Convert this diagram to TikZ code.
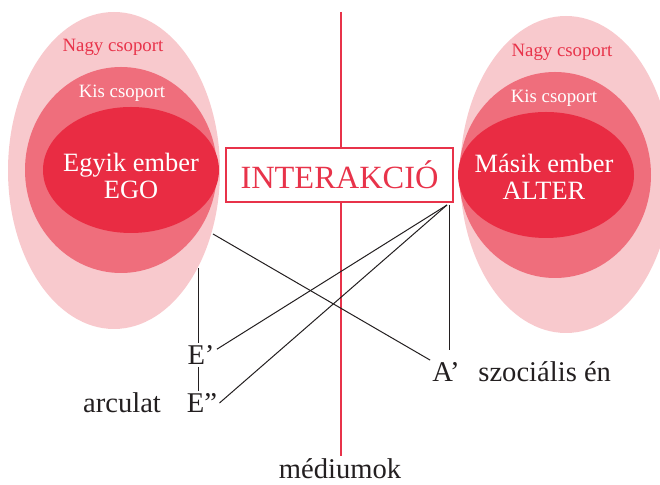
\documentclass[tikz,border=0pt]{standalone}
\usepackage{fontspec}
\setmainfont{Liberation Serif}
\definecolor{nagypink}{HTML}{F8C9CD}
\definecolor{kispink}{HTML}{EF6E7C}
\definecolor{emberred}{HTML}{E92C43}
\definecolor{linered}{HTML}{E8334A}
\definecolor{textgray}{HTML}{231F20}
\begin{document}
\begin{tikzpicture}[x=0.5pt,y=-0.5pt,
  lbl/.style={text=textgray, font=\fontsize{14.3}{16}\selectfont, inner sep=1pt},
  grp/.style={font=\fontsize{9.4}{11}\selectfont, inner sep=1pt},
  person/.style={text=white, align=center, font=\fontsize{13.2}{13.5}\selectfont},
  conn/.style={draw=textgray, line width=0.5pt}]
\clip (0,0) rectangle (660,485);
\fill[nagypink] (114,170.5) ellipse [x radius=106, y radius=158.5];
\fill[kispink] (121,170) ellipse [x radius=96, y radius=103];
\fill[emberred] (131,170) ellipse [x radius=88, y radius=63];
\fill[nagypink] (566,174.5) ellipse [x radius=106, y radius=158.5];
\fill[kispink] (555,175) ellipse [x radius=96, y radius=103];
\fill[emberred] (546,175) ellipse [x radius=88, y radius=63];
\node[grp, text=linered] (nagyL) at (113,47) {Nagy csoport};
\node[grp, text=white] (kisL) at (122,93) {Kis csoport};
\node[person] (ego) at (131,176) {Egyik ember\\EGO};
\node[grp, text=linered] (nagyR) at (562,52) {Nagy csoport};
\node[grp, text=white] (kisR) at (554,98) {Kis csoport};
\node[person] (alter) at (544,177) {Másik ember\\ALTER};
\node[draw=linered, line width=1pt, fill=white, text=linered,
  minimum width=113.5pt, minimum height=27pt,
  font=\fontsize{16.2}{18}\selectfont] (inter) at (339.5,175) {INTERAKCIÓ};
\coordinate (medtop) at (341,12);
\coordinate (medbot) at (341,456);
\node[lbl] (med) at (340,469) {médiumok};
\draw[linered, line width=1pt] (medtop) -- (medtop |- inter.north);
\draw[linered, line width=1pt] (medtop |- inter.south) -- (medbot);
\node[lbl] (eone) at (201,355) {E’};
\node[lbl] (etwo) at (202,403) {E”};
\node[lbl] (arc) at (122,403) {arculat};
\node[lbl] (aone) at (446,372) {A’};
\node[lbl, anchor=west] (szoc) at (476,372) {szociális én};
\coordinate (egoedge) at (213,234);
\coordinate (egolow) at (198,268);
\coordinate (ik) at (447,205);
\coordinate (ikv) at (449,205);
\draw[conn] (egolow) -- (egolow |- eone.north);
\draw[conn] (egolow |- eone.south) -- (egolow |- etwo.north);
\draw[conn] (egoedge) -- (aone.north west);
\draw[conn] (ik) -- (eone.20);
\draw[conn] (ik) -- (etwo.east);
\draw[conn] (ikv) -- ([yshift=5pt]ikv |- aone.north);
\end{tikzpicture}
\end{document}
